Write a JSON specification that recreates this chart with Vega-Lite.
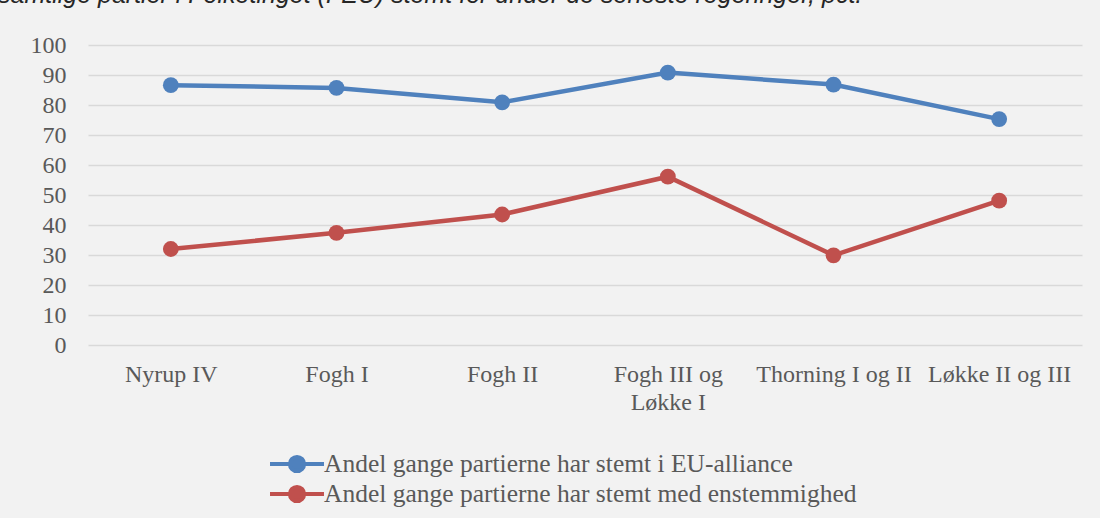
{
  "$schema": "https://vega.github.io/schema/vega-lite/v6.json",
  "autosize": {"type": "none"},
  "width": 994,
  "height": 300,
  "padding": {"left": 88, "top": 45, "right": 18, "bottom": 173},
  "background": "#f2f2f2",
  "title": {
    "text": "samtlige partier i Folketinget (FEU) stemt for under de seneste regeringer, pct.",
    "anchor": "start",
    "orient": "top",
    "frame": "group",
    "baseline": "alphabetic",
    "offset": 30,
    "dy": 25,
    "dx": -90,
    "font": "Liberation Sans",
    "fontStyle": "italic",
    "fontWeight": "normal",
    "fontSize": 25,
    "color": "#262626"
  },
  "data": {
    "values": [
      {"regering": "Nyrup IV", "serie": "Andel gange partierne har stemt i EU-alliance", "pct": 86.6},
      {"regering": "Fogh I", "serie": "Andel gange partierne har stemt i EU-alliance", "pct": 85.7},
      {"regering": "Fogh II", "serie": "Andel gange partierne har stemt i EU-alliance", "pct": 80.9},
      {"regering": "Fogh III og Løkke I", "serie": "Andel gange partierne har stemt i EU-alliance", "pct": 90.8},
      {"regering": "Thorning I og II", "serie": "Andel gange partierne har stemt i EU-alliance", "pct": 86.8},
      {"regering": "Løkke II og III", "serie": "Andel gange partierne har stemt i EU-alliance", "pct": 75.3},
      {"regering": "Nyrup IV", "serie": "Andel gange partierne har stemt med enstemmighed", "pct": 32.0},
      {"regering": "Fogh I", "serie": "Andel gange partierne har stemt med enstemmighed", "pct": 37.4},
      {"regering": "Fogh II", "serie": "Andel gange partierne har stemt med enstemmighed", "pct": 43.5},
      {"regering": "Fogh III og Løkke I", "serie": "Andel gange partierne har stemt med enstemmighed", "pct": 56.1},
      {"regering": "Thorning I og II", "serie": "Andel gange partierne har stemt med enstemmighed", "pct": 29.9},
      {"regering": "Løkke II og III", "serie": "Andel gange partierne har stemt med enstemmighed", "pct": 48.1}
    ]
  },
  "encoding": {
    "x": {
      "field": "regering",
      "type": "nominal",
      "sort": ["Nyrup IV", "Fogh I", "Fogh II", "Fogh III og Løkke I", "Thorning I og II", "Løkke II og III"],
      "scale": {"type": "point", "padding": 0.5},
      "axis": {
        "title": null,
        "labelAngle": 0,
        "domain": false,
        "ticks": false,
        "grid": false,
        "labelPadding": 17,
        "labelFont": "Liberation Serif",
        "labelFontSize": 24,
        "labelColor": "#595959",
        "labelLineHeight": 28,
        "labelExpr": "datum.label == 'Fogh III og Løkke I' ? ['Fogh III og', 'Løkke I'] : datum.label"
      }
    },
    "y": {
      "field": "pct",
      "type": "quantitative",
      "scale": {"domain": [0, 100], "nice": false},
      "axis": {
        "title": null,
        "values": [0, 10, 20, 30, 40, 50, 60, 70, 80, 90, 100],
        "domain": false,
        "ticks": false,
        "grid": true,
        "gridColor": "#d9d9d9",
        "gridWidth": 1.5,
        "labelPadding": 22,
        "labelFont": "Liberation Serif",
        "labelFontSize": 24,
        "labelColor": "#595959"
      }
    },
    "color": {
      "field": "serie",
      "type": "nominal",
      "scale": {
        "domain": ["Andel gange partierne har stemt i EU-alliance", "Andel gange partierne har stemt med enstemmighed"],
        "range": ["#4f81bd", "#c0504d"]
      },
      "legend": {
        "title": null,
        "orient": "none",
        "legendX": 196,
        "legendY": 406,
        "direction": "vertical",
        "symbolType": "M-2.5,0H2.5M-0.66,0A0.66,0.66,0,1,0,0.66,0A0.66,0.66,0,1,0,-0.66,0Z",
        "symbolSize": 466,
        "symbolStrokeWidth": 4,
        "symbolOpacity": 1,
        "labelFont": "Liberation Serif",
        "labelFontSize": 25.5,
        "labelColor": "#595959",
        "labelOffset": 14,
        "rowPadding": -2,
        "labelLimit": 800,
        "encode": {
          "symbols": {
            "update": {
              "fill": {"scale": "color", "field": "value"},
              "stroke": {"scale": "color", "field": "value"}
            }
          }
        }
      }
    }
  },
  "layer": [
    {"mark": {"type": "line", "strokeWidth": 4.5}},
    {"mark": {"type": "point", "filled": true, "size": 250, "opacity": 1}}
  ],
  "config": {
    "view": {"stroke": null}
  }
}
